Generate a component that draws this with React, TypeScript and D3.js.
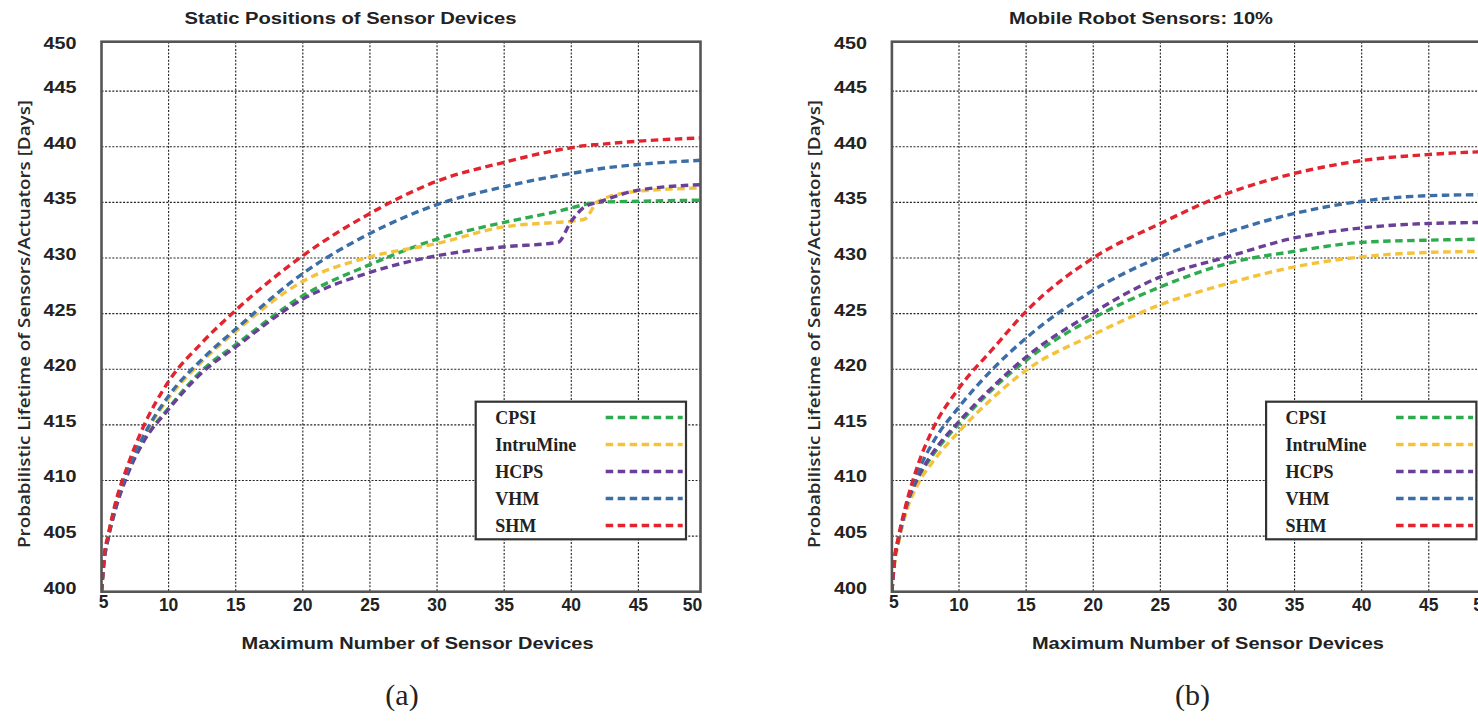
import React, { useEffect, useRef } from 'react';
import * as d3 from 'd3';

// x positions (number of sensor devices) where values were read
const X_A = [5, 5.2, 5.5, 6, 7, 8, 10, 12.5, 15, 20, 25, 30, 35, 39, 40, 41, 42, 45, 50];
const X_B = [5, 5.2, 5.5, 6, 7, 8, 10, 12.5, 15, 20, 25, 30, 35, 40, 45, 50];

// panel (a) - static positions
const CPSI_A = [400, 402.8, 404.8, 407.3, 410.8, 413.3, 416.5, 419.9, 422.2, 426.6, 429.4, 431.7, 433.2, 434.2, 434.5, 434.8, 435.0, 435.1, 435.2];
const INTRU_A = [400, 402.9, 405.0, 407.5, 411.0, 413.6, 417.4, 420.7, 423.4, 427.9, 430.1, 431.3, 432.8, 433.2, 433.3, 433.5, 435.1, 436.0, 436.3];
const HCPS_A = [400, 402.8, 404.8, 407.2, 410.7, 413.2, 416.4, 419.7, 422.0, 426.3, 428.7, 430.2, 431.0, 431.4, 433.3, 434.6, 435.0, 436.1, 436.6];
const VHM_A = [400, 403.0, 405.0, 407.6, 411.1, 413.7, 417.6, 420.9, 423.6, 428.6, 432.2, 434.8, 436.4, 437.4, 437.6, 437.8, 438.0, 438.4, 438.8];
const SHM_A = [400, 403.2, 405.1, 407.8, 411.5, 414.5, 418.9, 422.4, 425.3, 430.2, 434.0, 436.9, 438.6, 439.7, 439.9, 440.1, 440.2, 440.5, 440.8];

// panel (b) - mobile robot sensors 10%
const CPSI_B = [400, 402.8, 404.7, 407.2, 410.3, 412.2, 415.1, 418.2, 420.8, 424.6, 427.4, 429.5, 430.6, 431.4, 431.6, 431.7];
const INTRU_B = [400, 402.5, 404.4, 406.9, 409.8, 411.6, 414.4, 417.4, 419.9, 423.1, 425.8, 427.7, 429.2, 430.1, 430.5, 430.6];
const HCPS_B = [400, 402.8, 404.7, 407.3, 410.4, 412.4, 415.3, 418.4, 421.1, 425.1, 428.3, 430.1, 431.8, 432.7, 433.1, 433.2];
const VHM_B = [400, 402.9, 404.8, 407.4, 410.9, 413.3, 416.6, 420.0, 422.8, 427.1, 430.1, 432.3, 434.0, 435.1, 435.6, 435.7];
const SHM_B = [400, 403.0, 405.0, 407.6, 411.6, 414.5, 418.3, 421.8, 425.2, 430.0, 433.1, 435.8, 437.6, 438.75, 439.3, 439.6];

const SERIES_NAMES = ['CPSI', 'IntruMine', 'HCPS', 'VHM', 'SHM'];
const SERIES_COLORS = ['#2fab4f', '#f5c33b', '#6a3f97', '#3b6ea8', '#e3232e'];

const X_TICKS = [5, 10, 15, 20, 25, 30, 35, 40, 45, 50];
const Y_TICKS = [400, 405, 410, 415, 420, 425, 430, 435, 440, 445, 450];

const PANELS = [
  { left: 101.5, title: 'Static Positions of Sensor Devices', titleW: 332, caption: '(a)', xs: X_A, values: [CPSI_A, INTRU_A, HCPS_A, VHM_A, SHM_A] },
  { left: 891.9, title: 'Mobile Robot Sensors: 10%', titleW: 264, caption: '(b)', xs: X_B, values: [CPSI_B, INTRU_B, HCPS_B, VHM_B, SHM_B] },
];

const SANS = '"Liberation Sans", Arial, sans-serif';
const SERIF = '"Liberation Serif", "Times New Roman", serif';

const App = () => {
  const svgRef = useRef(null);

  useEffect(() => {
    const svg = d3.select(svgRef.current);
    svg.selectAll('*').remove();

    const top = 41.7;
    const bottom = 591.7;

    PANELS.forEach((p, idx) => {
      const right = p.left + 599;
      const x = d3.scaleLinear().domain([5, 50]).range([p.left, p.left + 604]);
      const y = d3.scaleLinear().domain([400, 450]).range([bottom, 35.45]);
      const g = svg.append('g');

      g.append('clipPath').attr('id', `clip-${idx}`)
        .append('rect')
        .attr('x', p.left).attr('y', top)
        .attr('width', right - p.left).attr('height', bottom - top);

      // dotted grid
      g.selectAll('.vgrid')
        .data(X_TICKS.filter(v => v > 5 && x(v) < right - 2))
        .join('line')
        .attr('x1', d => x(d)).attr('x2', d => x(d))
        .attr('y1', top).attr('y2', bottom)
        .attr('stroke', '#222').attr('stroke-width', 1.1)
        .attr('stroke-dasharray', '2,1.6');
      g.selectAll('.hgrid')
        .data(Y_TICKS.filter(v => v > 400 && v < 450))
        .join('line')
        .attr('x1', p.left).attr('x2', right)
        .attr('y1', d => y(d)).attr('y2', d => y(d))
        .attr('stroke', '#222').attr('stroke-width', 1.1)
        .attr('stroke-dasharray', '2,1.6');

      // curves
      const line = d3.line()
        .x(d => x(d[0]))
        .y(d => y(d[1]))
        .curve(d3.curveMonotoneX);

      const lines = g.append('g').attr('clip-path', `url(#clip-${idx})`);
      p.values.forEach((vals, i) => {
        lines.append('path')
          .datum(p.xs.map((xv, j) => [xv, vals[j]]))
          .attr('fill', 'none')
          .attr('stroke', SERIES_COLORS[i])
          .attr('stroke-width', 3.4)
          .attr('stroke-dasharray', '7.5,4.5');
      });
      lines.selectAll('path').attr('d', line);

      // frame
      g.append('rect')
        .attr('x', p.left).attr('y', top)
        .attr('width', right - p.left).attr('height', bottom - top)
        .attr('fill', 'none')
        .attr('stroke', '#555').attr('stroke-width', 2.6);

      // y tick labels
      g.selectAll('.ytick')
        .data(Y_TICKS)
        .join('text')
        .attr('x', p.left - 25)
        .attr('y', d => (d === 450 ? top + 1.5 : y(d) - 3.5))
        .attr('text-anchor', 'end')
        .attr('dominant-baseline', 'central')
        .attr('textLength', 33)
        .attr('lengthAdjust', 'spacingAndGlyphs')
        .style('font-family', SANS)
        .style('font-size', '17px')
        .style('font-weight', 'bold')
        .style('fill', '#222')
        .text(d => d);

      // x tick labels
      g.selectAll('.xtick')
        .data(X_TICKS)
        .join('text')
        .attr('x', d => (d === 5 ? x(5) + 2 : d === 50 ? right - 8 : x(d)))
        .attr('y', d => (d === 5 ? 601.5 : 605))
        .attr('text-anchor', 'middle')
        .attr('dominant-baseline', 'central')
        .style('font-family', SANS)
        .style('font-size', '17.5px')
        .style('font-weight', 'bold')
        .style('fill', '#222')
        .text(d => d);

      // titles
      g.append('text')
        .attr('x', p.left + 249).attr('y', 18.5)
        .attr('text-anchor', 'middle')
        .attr('dominant-baseline', 'central')
        .attr('textLength', p.titleW)
        .attr('lengthAdjust', 'spacingAndGlyphs')
        .style('font-family', SANS)
        .style('font-size', '16px')
        .style('font-weight', 'bold')
        .style('fill', '#222')
        .text(p.title);

      g.append('text')
        .attr('x', p.left + 316).attr('y', 643)
        .attr('text-anchor', 'middle')
        .attr('dominant-baseline', 'central')
        .attr('textLength', 352)
        .attr('lengthAdjust', 'spacingAndGlyphs')
        .style('font-family', SANS)
        .style('font-size', '16px')
        .style('font-weight', 'bold')
        .style('fill', '#222')
        .text('Maximum Number of Sensor Devices');

      const yt = [p.left - 78, 324];
      g.append('text')
        .attr('transform', `translate(${yt[0]},${yt[1]}) rotate(-90)`)
        .attr('text-anchor', 'middle')
        .attr('dominant-baseline', 'central')
        .attr('textLength', 448)
        .attr('lengthAdjust', 'spacingAndGlyphs')
        .style('font-family', '"Open Sans", "Noto Sans", sans-serif')
        .style('font-size', '15.5px')
        .style('font-weight', '600')
        .style('fill', '#2a2a2a')
        .text('Probabilistic Lifetime of Sensors/Actuators [Days]');

      // legend
      const lx = p.left + 374.2;
      const legend = g.append('g');
      legend.append('rect')
        .attr('x', lx).attr('y', 401.7)
        .attr('width', 210.3).attr('height', 137.6)
        .attr('fill', '#fff')
        .attr('stroke', '#333').attr('stroke-width', 2.2);
      SERIES_NAMES.forEach((name, i) => {
        const ly = 417.5 + i * 27;
        legend.append('text')
          .attr('x', lx + 19.5).attr('y', ly)
          .attr('dominant-baseline', 'central')
          .style('font-family', SERIF)
          .style('font-size', '18px')
          .style('font-weight', 'bold')
          .style('fill', '#222')
          .text(name);
        legend.append('line')
          .attr('x1', lx + 130).attr('x2', lx + 207)
          .attr('y1', ly).attr('y2', ly)
          .attr('stroke', SERIES_COLORS[i])
          .attr('stroke-width', 3.4)
          .attr('stroke-dasharray', '7.5,4.5');
      });

      // caption
      g.append('text')
        .attr('x', p.left + 300.5).attr('y', 705)
        .attr('text-anchor', 'middle')
        .style('font-family', SERIF)
        .style('font-size', '30px')
        .style('fill', '#222')
        .text(p.caption);
    });
  }, []);

  return (
    <svg
      ref={svgRef}
      width={1478}
      height={721}
      style={{ position: 'absolute', left: 0, top: 0, background: '#fff' }}
    />
  );
};

export default App;
